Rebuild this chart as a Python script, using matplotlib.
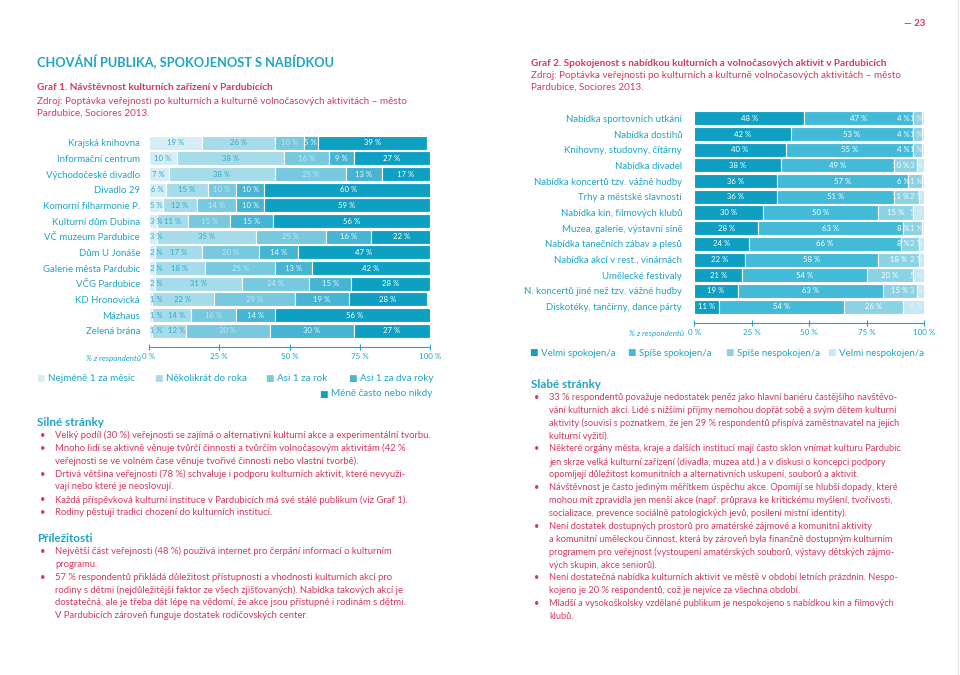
import numpy as np
import matplotlib.pyplot as plt

plt.rcParams['font.family'] = ['Lato', 'DejaVu Sans']

W, H = 960, 675
TEAL = '#1fa4c4'
RED = '#d23a5e'

# ---- Graf 1 data
venues = ['Krajská knihovna', 'Informační centrum', 'Východočeské divadlo', 'Divadlo 29',
          'Komorní filharmonie P.', 'Kulturní dům Dubina', 'VČ muzeum Pardubice',
          'Dům U Jonáše', 'Galerie města Pardubic', 'VČG Pardubice', 'KD Hronovická',
          'Mázhaus', 'Zelená brána']
freq_labels = ['Nejméně 1 za měsíc', 'Několikrát do roka', 'Asi 1 za rok',
               'Asi 1 za dva roky', 'Méně často nebo nikdy']
monthly = [19, 10, 7, 6, 5, 3, 3, 2, 2, 2, 1, 1, 1]
few_year = [26, 38, 38, 15, 12, 11, 35, 17, 18, 31, 22, 14, 12]
once_year = [10, 16, 25, 10, 14, 15, 25, 20, 25, 24, 29, 16, 30]
two_years = [5, 9, 13, 10, 10, 15, 16, 14, 13, 15, 19, 14, 30]
never = [39, 27, 17, 60, 59, 56, 22, 47, 42, 28, 28, 56, 27]

# ---- Graf 2 data
offers = ['Nabídka sportovních utkání', 'Nabídka dostihů', 'Knihovny, studovny, čítárny',
          'Nabídka divadel', 'Nabídka koncertů tzv. vážné hudby', 'Trhy a městské slavnosti',
          'Nabídka kin, filmových klubů', 'Muzea, galerie, výstavní síně',
          'Nabídka tanečních zábav a plesů', 'Nabídka akcí v rest., vinárnách',
          'Umělecké festivaly', 'N. koncertů jiné než tzv. vážné hudby',
          'Diskotéky, tančírny, dance párty']
sat_labels = ['Velmi spokojen/a', 'Spíše spokojen/a', 'Spíše nespokojen/a', 'Velmi nespokojen/a']
very_sat = [48, 42, 40, 38, 36, 36, 30, 28, 24, 22, 21, 19, 11]
rather_sat = [47, 53, 55, 49, 57, 51, 50, 63, 66, 58, 54, 63, 54]
rather_unsat = [4, 4, 4, 10, 6, 11, 15, 8, 8, 18, 20, 15, 26]
very_unsat = [1, 1, 1, 3, 1, 2, 5, 1, 2, 2, 5, 3, 9]

ticks = [0, 25, 50, 75, 100]

BODY = 6.8


def fx(x):
    return x / W


def fy(y):
    return 1 - y / H


def txt(x, y, s, **kw):
    kw.setdefault('va', 'center')
    fig.text(fx(x), fy(y), s, **kw)


fig = plt.figure(figsize=(9.6, 6.75), dpi=100)
fig.patch.set_facecolor('white')


def stacked(ax, rows, series, colors, textcols, small_rule):
    n = len(rows)
    y = np.arange(n)
    left = np.zeros(n)
    first = np.array(series[0], dtype=float)
    for k, vals in enumerate(series):
        vals = np.array(vals, dtype=float)
        ax.barh(y, vals, left=left, height=0.9, color=colors[k], edgecolor='white', linewidth=0.8)
        for i in range(n):
            ha, xpos = small_rule(k, left[i], vals[i], first[i])
            ax.text(xpos, y[i], f'{int(vals[i])} %', ha=ha, va='center', fontsize=5.6,
                    color=textcols[k])
        left += vals
    ax.set_xlim(0, 100)
    ax.set_ylim(n - 0.5, -0.5)
    ax.set_yticks(y)
    ax.set_yticklabels(rows)
    ax.tick_params(axis='y', length=0, pad=6.5, labelsize=6.9, labelcolor=TEAL)
    ax.set_xticks(ticks)
    ax.set_xticklabels([f'{t} %' for t in ticks])
    ax.tick_params(axis='x', direction='inout', length=5, width=0.8, color=TEAL, pad=2,
                   labelsize=5.8, labelcolor=TEAL)
    labs = ax.get_xticklabels()
    labs[0].set_ha('left')
    labs[-1].set_ha('right')
    for s in ['top', 'left', 'right']:
        ax.spines[s].set_visible(False)
    ax.spines['bottom'].set_position(('outward', 6))
    ax.spines['bottom'].set_color(TEAL)
    ax.spines['bottom'].set_linewidth(0.8)


# ---- chart 1
ax1 = fig.add_axes([fx(149), fy(338.5), fx(430 - 149), (338.5 - 134.9) / H])
cols1 = ['#d5eef5', '#a6dcea', '#78c9df', '#45b5d3', '#0ea0c3']
tcol1 = ['#35a8c8', '#35a8c8', '#c2e8f2', '#eaf7fb', 'white']


def rule1(k, start, w, w0):
    if w <= 3:
        return 'left', start + 0.3
    if k == 1 and w0 <= 1 and w < 16:
        # small first segment: keep the label clear of the "1 %" text
        return 'left', start + 5.6
    return 'center', start + w / 2


stacked(ax1, venues, [monthly, few_year, once_year, two_years, never], cols1, tcol1, rule1)
txt(141, 358, '% z respondentů', ha='right', fontsize=5.8, style='italic', color=TEAL)

# legend 1
leg1 = [(40, 378), (158, 378), (269, 378), (352, 378), (323, 394)]
for (lx, ly), lab, c in zip(leg1, freq_labels, cols1):
    txt(lx, ly, '■', ha='center', fontsize=6.5, color=c)
    txt(lx + 8, ly, lab, ha='left', fontsize=7.1, color=TEAL)

# ---- chart 2
ax2 = fig.add_axes([fx(694), fy(314.5), fx(924 - 694), (314.5 - 110.5) / H])
cols2 = ['#0e9fc2', '#43bad8', '#8cd2e5', '#c5e8f2']
tcol2 = ['white', 'white', 'white', '#eaf7fb']


def rule2(k, start, w, w0):
    if k == 3:
        return 'right', 99.6
    if k == 2 and w < 12:
        return 'right', 93.8
    return 'center', start + w / 2


stacked(ax2, offers, [very_sat, rather_sat, rather_unsat, very_unsat], cols2, tcol2, rule2)
ax2.tick_params(axis='y', pad=8.5)
txt(684, 333, '% z respondentů', ha='right', fontsize=5.8, style='italic', color=TEAL)

leg2 = [533, 631, 729, 831]
for lx, lab, c in zip(leg2, sat_labels, cols2):
    txt(lx, 353, '■', ha='center', fontsize=6.5, color=c)
    txt(lx + 8, 353, lab, ha='left', fontsize=7.0, color=TEAL)

# ---- page text
txt(925, 23, '— 23', ha='right', fontsize=7, fontweight='bold', color=RED)
fig.add_artist(plt.Line2D([fx(958), fx(958)], [0, 1], color='#e4e4e4', lw=0.8))

txt(37, 62, 'CHOVÁNÍ PUBLIKA, SPOKOJENOST S NABÍDKOU', ha='left', fontsize=9.15,
    fontweight='bold', color=TEAL)
txt(37, 88, 'Graf 1. Návštěvnost kulturních zařízení v Pardubicích', ha='left', fontsize=7.2,
    fontweight='bold', color=RED)
txt(37, 101, 'Zdroj: Poptávka veřejnosti po kulturních a kulturně volnočasových aktivitách – město',
    ha='left', fontsize=7.1, color=RED)
txt(37, 113, 'Pardubice, Sociores 2013.', ha='left', fontsize=7.1, color=RED)

txt(531, 63, 'Graf 2. Spokojenost s nabídkou kulturních a volnočasových aktivit v Pardubicích',
    ha='left', fontsize=7.2, fontweight='bold', color=RED)
txt(531, 75, 'Zdroj: Poptávka veřejnosti po kulturních a kulturně volnočasových aktivitách – město',
    ha='left', fontsize=7.1, color=RED)
txt(531, 87, 'Pardubice, Sociores 2013.', ha='left', fontsize=7.1, color=RED)

strong = [
    ['Velký podíl (30 %) veřejnosti se zajímá o alternativní kulturní akce a experimentální tvorbu.'],
    ['Mnoho lidí se aktivně věnuje tvůrčí činnosti a tvůrčím volnočasovým aktivitám (42 %',
     'veřejnosti se ve volném čase věnuje tvořivé činnosti nebo vlastní tvorbě).'],
    ['Drtivá většina veřejnosti (78 %) schvaluje i podporu kulturních aktivit, které nevyuži-',
     'vají nebo které je neoslovují.'],
    ['Každá příspěvková kulturní instituce v Pardubicích má své stálé publikum (viz Graf 1).'],
    ['Rodiny pěstují tradici chození do kulturních institucí.'],
]
chances = [
    ['Největší část veřejnosti (48 %) používá internet pro čerpání informací o kulturním',
     'programu.'],
    ['57 % respondentů přikládá důležitost přístupnosti a vhodnosti kulturních akcí pro',
     'rodiny s dětmi (nejdůležitější faktor ze všech zjišťovaných). Nabídka takových akcí je',
     'dostatečná, ale je třeba dát lépe na vědomí, že akce jsou přístupné i rodinám s dětmi.',
     'V Pardubicích zároveň funguje dostatek rodičovských center.'],
]
weak = [
    ['33 % respondentů považuje nedostatek peněz jako hlavní bariéru častějšího navštěvo-',
     'vání kulturních akcí. Lidé s nižšími příjmy nemohou dopřát sobě a svým dětem kulturní',
     'aktivity (souvisí s poznatkem, že jen 29 % respondentů přispívá zaměstnavatel na jejich',
     'kulturní vyžití).'],
    ['Některé orgány města, kraje a dalších institucí mají často sklon vnímat kulturu Pardubic',
     'jen skrze velká kulturní zařízení (divadla, muzea atd.) a v diskusi o koncepci podpory',
     'opomíjejí důležitost komunitních a alternativních uskupení, souborů a aktivit.'],
    ['Návštěvnost je často jediným měřítkem úspěchu akce. Opomíjí se hlubší dopady, které',
     'mohou mít zpravidla jen menší akce (např. průprava ke kritickému myšlení, tvořivosti,',
     'socializace, prevence sociálně patologických jevů, posílení místní identity).'],
    ['Není dostatek dostupných prostorů pro amatérské zájmové a komunitní aktivity',
     'a komunitní uměleckou činnost, která by zároveň byla finančně dostupným kulturním',
     'programem pro veřejnost (vystoupení amatérských souborů, výstavy dětských zájmo-',
     'vých skupin, akce seniorů).'],
    ['Není dostatečná nabídka kulturních aktivit ve městě v období letních prázdnin. Nespo-',
     'kojeno je 20 % respondentů, což je nejvíce za všechna období.'],
    ['Mladší a vysokoškolsky vzdělané publikum je nespokojeno s nabídkou kin a filmových',
     'klubů.'],
]


def section(x, y, title, items, size, step=12.9):
    txt(x, y, title, ha='left', fontsize=8.4, fontweight='bold', color=TEAL)
    y += 13.3
    for item in items:
        txt(x + 3, y, '•', ha='left', fontsize=size, color=RED)
        for line in item:
            txt(x + 18, y, line, ha='left', fontsize=size, color=RED)
            y += step
    return y


section(37, 422, 'Silné stránky', strong, BODY)
section(37, 538, 'Příležitosti', chances, BODY)
section(531, 384, 'Slabé stránky', weak, 6.7)

fig.savefig('out.png', dpi=100, facecolor='white')
